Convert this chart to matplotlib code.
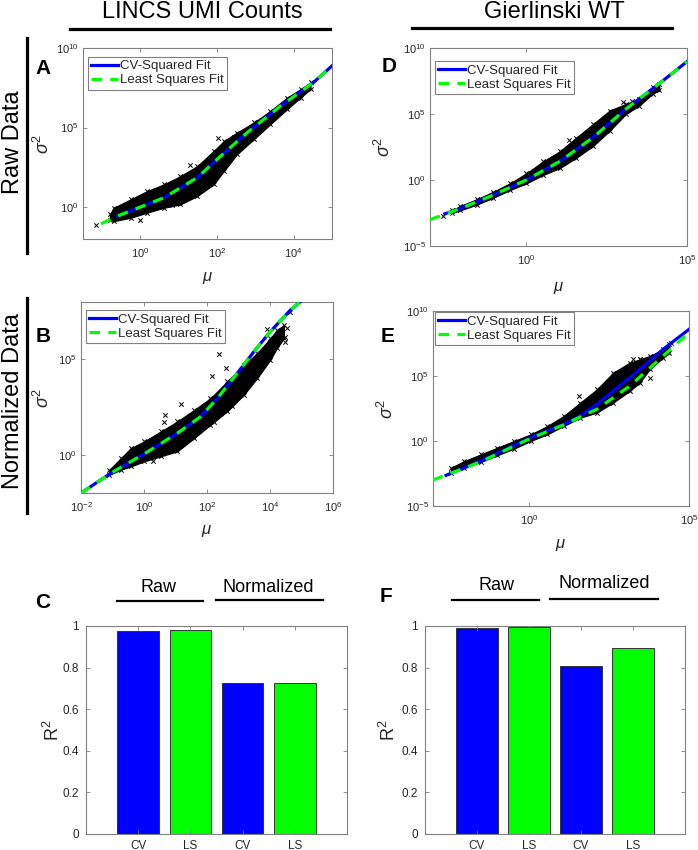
import numpy as np
import matplotlib
matplotlib.use("Agg")
import matplotlib.pyplot as plt
from matplotlib.lines import Line2D
from matplotlib.ticker import NullLocator

plt.rcParams['font.family'] = ['Liberation Sans', 'DejaVu Sans']
plt.rcParams['mathtext.fontset'] = 'custom'
plt.rcParams['mathtext.rm'] = 'Liberation Sans'
plt.rcParams['mathtext.it'] = 'Liberation Sans:italic'

# ---- data (log10 of mu and sigma^2) ----
# panel A: LINCS raw
a_lm = [-0.80, -0.70, -0.26, 0.17, 0.61, 1.04, 1.48, 1.91, 2.18, 2.52, 2.96, 3.39, 3.83, 4.18, 4.44]
a_top = [-0.45, -0.04, 0.49, 1.01, 1.43, 1.95, 2.58, 3.53, 4.16, 4.69, 5.32, 6.05, 6.89, 7.42, 7.84]
a_bot = [-0.80, -0.88, -0.67, -0.35, -0.04, 0.17, 0.69, 1.43, 2.27, 3.32, 4.27, 5.21, 6.16, 6.89, 7.42]
a_out_lm = [-1.15, 0.0, 2.03, 2.44, 0.83, -0.61, 1.30]
a_out_ls = [-1.13, -0.82, 4.33, 4.41, 0.13, -0.14, 2.68]
a_cv_lm = [-0.61, 0.61, 1.48, 2.09, 2.79, 3.66, 4.52, 5.0]
a_cv_ls = [-0.57, 0.59, 1.85, 3.20, 4.69, 6.36, 7.84, 8.88]
a_ls_lm = [-1.03, -0.61, 0.61, 1.48, 2.09, 2.79, 3.66, 4.52, 5.0]
a_ls_ls = [-1.05, -0.57, 0.59, 1.85, 3.20, 4.69, 6.36, 7.84, 8.88]

# panel B: LINCS normalized
b_lm = [-1.10, -0.73, -0.42, 0.0, 0.53, 1.06, 1.59, 2.11, 2.64, 3.17, 3.59, 4.01, 4.22, 4.44]
b_top = [-0.78, -0.17, 0.35, 0.70, 1.22, 1.75, 2.35, 2.96, 3.84, 4.70, 5.32, 6.10, 6.53, 6.80]
b_bot = [-1.05, -0.78, -0.61, -0.35, -0.08, 0.18, 0.87, 1.57, 2.27, 3.14, 4.01, 4.97, 5.58, 6.10]
b_out_lm = [2.38, 2.17, 1.16, 0.66, 0.62, 2.22, 2.80, 3.91, 4.54, 4.49, 4.49, 4.65, 0.27, 2.59]
b_out_ls = [5.26, 4.15, 2.65, 2.09, 1.74, 1.71, 2.53, 6.59, 6.62, 6.19, 5.93, 7.50, -0.31, 4.54]
b_cv_lm = [-2.0, -1.05, 0.0, 1.06, 1.80, 2.33, 2.96, 3.49, 4.01, 4.65, 5.02]
b_cv_ls = [-2.0, -0.96, 0.04, 1.13, 2.00, 2.96, 4.27, 5.40, 6.45, 7.58, 8.10]
b_ls_lm = b_cv_lm
b_ls_ls = b_cv_ls

# panel D: Gierlinski raw
d_lm = [-2.30, -2.07, -1.55, -1.04, -0.52, 0.0, 0.52, 1.04, 1.55, 2.07, 2.59, 3.10, 3.52, 3.93, 4.14]
d_top = [-2.30, -1.97, -1.46, -0.90, -0.26, 0.51, 1.41, 2.18, 3.21, 4.23, 5.26, 5.77, 6.15, 7.05, 7.31]
d_bot = [-2.50, -2.31, -1.87, -1.36, -0.77, -0.26, 0.38, 0.90, 1.67, 2.56, 3.72, 5.00, 5.64, 6.54, 6.79]
d_out_lm = [1.33, -2.60, -2.20, -1.70, 3.00, 3.30]
d_out_ls = [3.02, -2.70, -2.30, -1.80, 5.90, 6.00]
d_cv_lm = [-2.54, -2.07, -1.04, 0.0, 1.04, 2.07, 3.10, 4.14, 5.0]
d_cv_ls = [-2.56, -2.18, -1.15, 0.0, 1.41, 3.21, 5.38, 7.31, 8.97]
d_ls_lm = [-3.0, -2.07, -1.04, 0.0, 1.04, 2.07, 3.10, 4.14, 5.0]
d_ls_ls = [-3.0, -2.18, -1.15, 0.0, 1.41, 3.21, 5.38, 7.31, 8.97]

# panel E: Gierlinski normalized
e_lm = [-2.44, -2.02, -1.51, -0.99, -0.47, 0.05, 0.57, 1.08, 1.60, 2.12, 2.63, 3.15, 3.46, 3.77, 4.19, 4.39]
e_top = [-2.05, -1.54, -1.03, -0.51, 0.0, 0.51, 1.15, 1.92, 2.95, 3.97, 5.26, 6.03, 6.28, 6.54, 7.05, 7.44]
e_bot = [-2.44, -2.05, -1.62, -1.10, -0.59, 0.0, 0.51, 1.15, 1.79, 2.18, 2.95, 3.85, 4.49, 5.51, 6.41, 6.79]
e_out_lm = [1.57, 3.25, 3.48, 3.77, 4.45]
e_out_ls = [3.46, 6.28, 6.33, 4.87, 7.51]
e_cv_lm = [-2.59, -1.51, 0.05, 1.09, 1.60, 2.12, 3.15, 4.19, 5.0]
e_cv_ls = [-2.64, -1.54, 0.26, 1.28, 1.92, 2.82, 4.87, 7.05, 8.59]
e_ls_lm = [-3.0, -1.51, 0.05, 1.09, 1.60, 2.12, 3.15, 4.19, 5.0]
e_ls_ls = [-3.0, -1.60, 0.20, 1.25, 1.85, 2.44, 4.23, 6.54, 8.33]

# bar charts
bar_labels = ['CV', 'LS', 'CV', 'LS']
c_r2 = [0.974, 0.982, 0.724, 0.724]
f_r2 = [0.990, 0.995, 0.808, 0.896]

BLUE = '#0000FF'
GREEN = '#00FF00'
GRAY = '#808080'
TXT = '#262626'

W, H = 698, 850
fig = plt.figure(figsize=(W / 100, H / 100), dpi=100)


def box(x0, y0, x1, y1):
    return [x0 / W, 1 - y1 / H, (x1 - x0) / W, (y1 - y0) / H]


def style_axes(ax):
    for s in ax.spines.values():
        s.set_color(GRAY)
        s.set_linewidth(0.8)
    ax.tick_params(direction='in', top=True, right=True, length=3, width=0.6,
                   color=GRAY, labelcolor=TXT)


def scatter_panel(rect, lm, top, bot, olm, ols, cvx, cvy, lsx, lsy,
                  xlim, ylim, xt, yt, leg_anchor, ylab_x, xlab_y):
    ax = fig.add_axes(box(*rect))
    ax.set_xscale('log')
    ax.set_yscale('log')
    mu = 10.0 ** np.array(lm)
    ax.fill_between(mu, 10.0 ** np.array(bot), 10.0 ** np.array(top),
                    color='black', lw=0.8, zorder=2)
    ax.scatter(np.concatenate([mu, mu, 10.0 ** np.array(olm)]),
               np.concatenate([10.0 ** np.array(top), 10.0 ** np.array(bot), 10.0 ** np.array(ols)]),
               marker='x', s=10, lw=0.7, color='black', zorder=2)
    h1, = ax.plot(10.0 ** np.array(cvx), 10.0 ** np.array(cvy), color=BLUE, lw=2.3,
                  zorder=3, label='CV-Squared Fit')
    h2, = ax.plot(10.0 ** np.array(lsx), 10.0 ** np.array(lsy), color=GREEN, lw=2.3,
                  ls=(0, (3.3, 2.6)), zorder=4, label='Least Squares Fit')
    ax.set_xlim(*xlim)
    ax.set_ylim(*ylim)
    ax.set_xticks(xt)
    ax.set_yticks(yt)
    ax.xaxis.set_minor_locator(NullLocator())
    ax.yaxis.set_minor_locator(NullLocator())
    style_axes(ax)
    ax.tick_params(labelsize=8)
    ax.tick_params(axis='x', pad=5)
    ax.tick_params(axis='y', pad=3)
    ax.set_xlabel(r'$\mu$', fontsize=12, color=TXT)
    ax.set_ylabel(r'$\sigma^2$', fontsize=13, color=TXT)
    ax.xaxis.set_label_coords(0.5, xlab_y)
    ax.yaxis.set_label_coords(ylab_x, 0.5)
    leg = ax.legend(handles=[h1, h2], loc='upper left', bbox_to_anchor=leg_anchor,
                    borderaxespad=0, fontsize=9.5, fancybox=False, framealpha=1,
                    edgecolor=GRAY, handlelength=2.0, handletextpad=0.2,
                    borderpad=0.25, labelspacing=0.15)
    leg.get_frame().set_linewidth(0.8)
    for t in leg.get_texts():
        t.set_color(TXT)
    return ax


scatter_panel((83, 48, 332, 239), a_lm, a_top, a_bot, a_out_lm, a_out_ls,
              a_cv_lm, a_cv_ls, a_ls_lm, a_ls_ls,
              (10 ** -1.5, 1e5), (1e-2, 1e10), [1, 1e2, 1e4], [1, 1e5, 1e10],
              (0.02, 0.955), -0.12, -0.162)
scatter_panel((81, 302, 333, 493), b_lm, b_top, b_bot, b_out_lm, b_out_ls,
              b_cv_lm, b_cv_ls, b_ls_lm, b_ls_ls,
              (1e-2, 1e6), (1e-2, 1e8), [1e-2, 1, 1e2, 1e4, 1e6], [1, 1e5],
              (0.02, 0.958), -0.111, -0.157)
scatter_panel((430, 48, 687, 246), d_lm, d_top, d_bot, d_out_lm, d_out_ls,
              d_cv_lm, d_cv_ls, d_ls_lm, d_ls_ls,
              (1e-3, 1e5), (1e-5, 1e10), [1, 1e5], [1e-5, 1, 1e5, 1e10],
              (0.019, 0.934), -0.14, -0.172)
scatter_panel((433, 311, 689, 506), e_lm, e_top, e_bot, e_out_lm, e_out_ls,
              e_cv_lm, e_cv_ls, e_ls_lm, e_ls_ls,
              (1e-3, 1e5), (1e-5, 1e10), [1, 1e5], [1e-5, 1, 1e5, 1e10],
              (0.008, 0.995), -0.141, -0.159)


def bar_panel(rect, vals, ylab_x):
    ax = fig.add_axes(box(*rect))
    x = np.arange(1, 5)
    ax.bar(x, vals, width=0.8, color=[BLUE, GREEN, BLUE, GREEN],
           edgecolor='#333333', linewidth=0.7)
    ax.set_xlim(0, 5)
    ax.set_ylim(0, 1)
    ax.set_xticks(x)
    ax.set_xticklabels(bar_labels)
    ax.set_yticks([0, 0.2, 0.4, 0.6, 0.8, 1])
    ax.set_yticklabels(['0', '0.2', '0.4', '0.6', '0.8', '1'])
    style_axes(ax)
    ax.tick_params(labelsize=8.5)
    ax.tick_params(axis='y', pad=5)
    ax.tick_params(axis='x', pad=4)
    ax.set_ylabel(r'R$^2$', fontsize=13, color=TXT)
    ax.yaxis.set_label_coords(ylab_x, 0.5)
    return ax


bar_panel((86, 626, 347, 834), c_r2, -0.088)
bar_panel((425, 626, 685, 834), f_r2, -0.10)


# ---- figure annotations ----
def ftext(px, py, s, **kw):
    fig.text(px / W, 1 - py / H, s, ha='center', va='center', **kw)


def fline(x0, y0, x1, y1, lw):
    fig.add_artist(Line2D([x0 / W, x1 / W], [1 - y0 / H, 1 - y1 / H],
                          transform=fig.transFigure, color='black', lw=lw))


ftext(202, 12, 'LINCS UMI Counts', fontsize=17)
ftext(554, 12, 'Gierlinski WT', fontsize=17)
fline(70, 29, 330, 29, 2.3)
fline(412, 28, 672, 28, 2.3)

ftext(13, 142, 'Raw Data', fontsize=17, rotation=90)
ftext(13, 401, 'Normalized Data', fontsize=17, rotation=90)
fline(27, 38, 27, 253, 2.3)
fline(27, 298, 27, 513, 2.3)

for lab, px, py in [('A', 43, 68), ('B', 43.5, 336), ('C', 42.5, 603),
                    ('D', 389, 67), ('E', 388, 337), ('F', 386, 597)]:
    ftext(px, py, lab, fontsize=15, fontweight='bold')

ftext(158, 588, 'Raw', fontsize=13)
ftext(268, 587, 'Normalized', fontsize=13)
fline(117, 601, 203, 601, 1.6)
fline(216, 600, 323, 600, 1.6)
ftext(496, 585, 'Raw', fontsize=13)
ftext(604, 584, 'Normalized', fontsize=13)
fline(452, 600, 539, 600, 1.6)
fline(550, 599, 658, 599, 1.6)

fig.savefig('out.png', dpi=100)
